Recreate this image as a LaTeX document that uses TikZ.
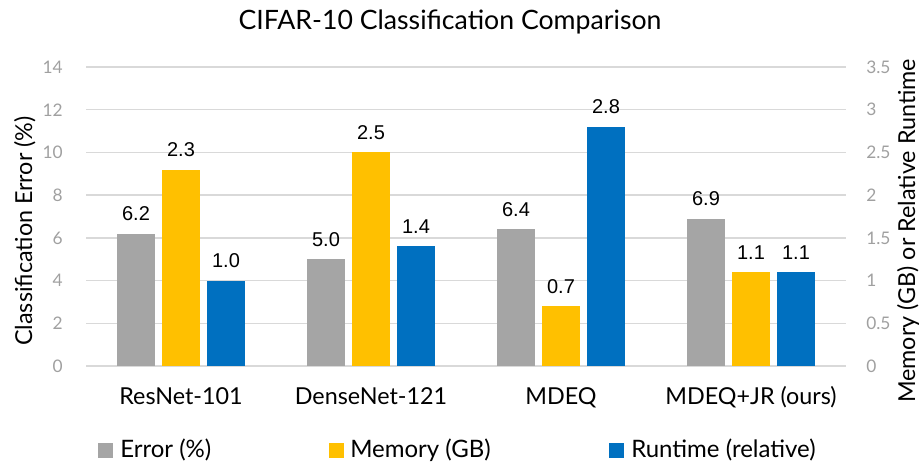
\documentclass[tikz,border=0pt]{standalone}
\usepackage{fontspec}
\setmainfont{Lato}
\newfontfamily\valfont{Liberation Sans}
\definecolor{errgray}{HTML}{A5A5A5}
\definecolor{memyellow}{HTML}{FFC000}
\definecolor{rtblue}{HTML}{0070C0}
\definecolor{gridgray}{HTML}{D9D9D9}
\definecolor{tickgray}{HTML}{A0A0A0}
\tikzset{
  grid line/.style={draw=gridgray, line width=1pt},
  ticklabel/.style={font=\fontsize{13}{15}\selectfont, text=tickgray, inner sep=0pt},
  vallabel/.style={font=\valfont\fontsize{15}{17}\selectfont, anchor=base, inner sep=0pt},
  catlabel/.style={font=\fontsize{17.5}{20}\selectfont, anchor=base, inner sep=0pt},
  leglabel/.style={font=\fontsize{18}{21}\selectfont, anchor=base west, inner sep=0pt},
  axtitle/.style={font=\fontsize{17.5}{20}\selectfont, rotate=90, anchor=base, inner sep=0pt},
  legkey/.style={minimum size=11.25pt, inner sep=0pt},
}
\begin{document}
\begin{tikzpicture}[x=0.75pt, y=-0.75pt]
\useasboundingbox (0,0) rectangle (921,462);

\def\xl{86}; % plot left
\def\xr{846}; % plot right
\def\yz{366}; % zero line
\def\dy{21.357}; % px per unit (left axis)
\def\bw{38}; % bar width

% gridlines and ticks
\foreach \i in {0,...,7}{
  \pgfmathsetmacro{\yy}{\yz - 2*\i*\dy}
  \draw[grid line] (\xl,\yy) -- (\xr,\yy);
  \pgfmathtruncatemacro{\lv}{2*\i}
  \node[ticklabel, anchor=east] (lt\i) at (63,\yy) {\lv};
}
\foreach \i/\rv in {0/0,1/0.5,2/1,3/1.5,4/2,5/2.5,6/3,7/3.5}{
  \pgfmathsetmacro{\yy}{\yz - 2*\i*\dy}
  \node[ticklabel, anchor=west] (rt\i) at (866,\yy) {\rv};
}

% bars
\foreach \g/\nm/\e/\m/\r in {0/ResNet-101/6.2/2.3/1.0, 1/DenseNet-121/5.0/2.5/1.4, 2/MDEQ/6.4/0.7/2.8, 3/MDEQ+JR (ours)/6.9/1.1/1.1}{
  \pgfmathsetmacro{\xc}{181 + 190*\g}
  \pgfmathsetmacro{\ye}{\yz - \e*\dy}
  \pgfmathsetmacro{\ym}{\yz - 4*\m*\dy}
  \pgfmathsetmacro{\yr}{\yz - 4*\r*\dy}
  \fill[errgray] (\xc-45-\bw/2,\yz) rectangle (\xc-45+\bw/2,\ye);
  \fill[memyellow] (\xc-\bw/2,\yz) rectangle (\xc+\bw/2,\ym);
  \fill[rtblue] (\xc+45-\bw/2,\yz) rectangle (\xc+45+\bw/2,\yr);
  \node[vallabel] (ev\g) at (\xc-45,\ye-13) {\e};
  \node[vallabel] (mv\g) at (\xc,\ym-13) {\m};
  \node[vallabel] (rv\g) at (\xc+45,\yr-13) {\r};
  \node[catlabel] (cat\g) at (\xc,404) {\nm};
}

% titles
\node[font=\fontsize{20}{24}\selectfont, anchor=base, inner sep=0pt] (title) at (450,29) {CIFAR-10 Classification Comparison};
\node[axtitle] (ltitle) at (32,231) {Classification Error (\%)};
\node[axtitle] (rtitle) at (915,231) {Memory (GB) or Relative Runtime};

% legend
\node[legkey, fill=errgray] (kerr) at (105.5,450.5) {};
\node[leglabel] (lerr) at (120,457) {Error (\%)};
\node[legkey, fill=memyellow] (kmem) at (336.5,450.5) {};
\node[leglabel] (lmem) at (350,457) {Memory (GB)};
\node[legkey, fill=rtblue] (krt) at (616.5,450.5) {};
\node[leglabel] (lrt) at (631,457) {Runtime (relative)};

\end{tikzpicture}
\end{document}
